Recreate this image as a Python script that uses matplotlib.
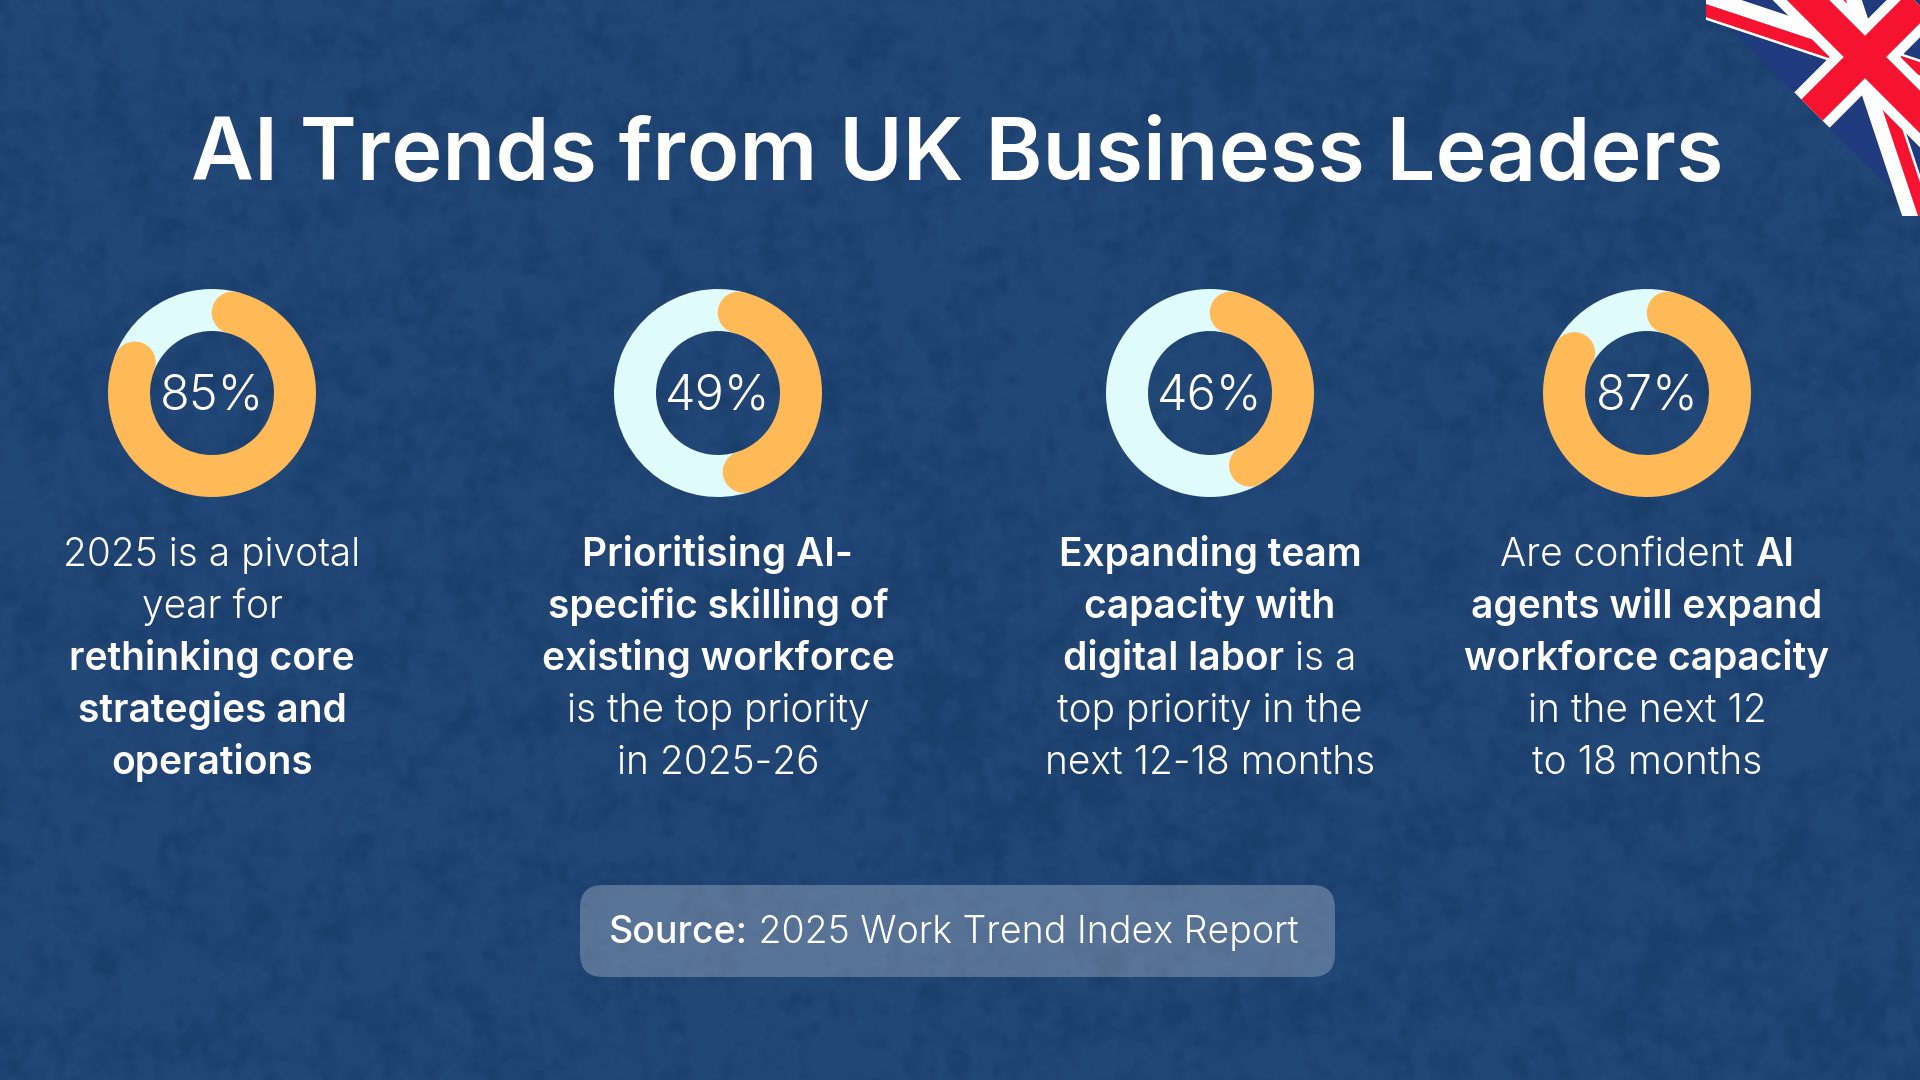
import numpy as np
import matplotlib
matplotlib.use("Agg")
import matplotlib.pyplot as plt
from matplotlib.patches import Polygon, Circle, FancyBboxPatch, Rectangle

W, H = 1920, 1080
title_text = "AI Trends from UK Business Leaders"
donut_values = [85, 49, 46, 87]
donut_labels = ["85%", "49%", "46%", "87%"]
donut_centers = [212, 718, 1210, 1647]
captions = [
    [[("2025 is a pivotal", 0)], [("year for", 0)], [("rethinking core", 1)],
     [("strategies and", 1)], [("operations", 1)]],
    [[("Prioritising AI-", 1)], [("specific skilling of", 1)], [("existing workforce", 1)],
     [("is the top priority", 0)], [("in 2025-26", 0)]],
    [[("Expanding team", 1)], [("capacity with", 1)], [("digital labor", 1), (" is a", 0)],
     [("top priority in the", 0)], [("next 12-18 months", 0)]],
    [[("Are confident ", 0), ("AI", 1)], [("agents will expand", 1)], [("workforce capacity", 1)],
     [("in the next 12", 0)], [("to 18 months", 0)]],
]
source_parts = [("Source:", 1), (" 2025 Work Trend Index Report", 0)]

BG = np.array([32, 69, 116]) / 255
ORANGE = "#ffb957"
TRACK = "#e0fbfc"
FONT = "Inter"
plt.rcParams["font.family"] = [FONT, "DejaVu Sans"]

fig = plt.figure(figsize=(W / 100, H / 100), dpi=100, facecolor=BG)
ax = fig.add_axes([0, 0, 1, 1])
ax.set_xlim(0, W)
ax.set_ylim(H, 0)
ax.axis("off")

# Mottled background texture (deterministic hash noise, blurred)
yy, xx = np.mgrid[0:H, 0:W]
hash_n = np.sin(xx * 12.9898 + yy * 78.233) * 43758.5453
hash_n = hash_n - np.floor(hash_n)
fx = np.fft.fftfreq(W)[None, :]
fy = np.fft.fftfreq(H)[:, None]
F = np.fft.fft2(hash_n - hash_n.mean())
def blur(s):
    return np.real(np.fft.ifft2(F * np.exp(-2 * (np.pi * s) ** 2 * (fx ** 2 + fy ** 2))))
tex = blur(3.5) / blur(3.5).std() + 0.7 * blur(12) / blur(12).std()
tex = tex / tex.std()
shade = np.clip(tex, -2.5, 0.8) * 0.012
img = np.clip(BG[None, None, :] + shade[:, :, None] * np.array([0.7, 0.9, 1.2]), 0, 1)
ax.imshow(img, extent=(0, W, H, 0), aspect="auto", zorder=0, interpolation="bilinear")
ax.set_xlim(0, W)
ax.set_ylim(H, 0)

# Union flag, rotated in the top-right corner
C = np.array([1865.0, 57.0])
vx = np.array([1, 1]) / np.sqrt(2)
vy = np.array([-1, 1]) / np.sqrt(2)
U = 150 / 30
def flag(pts):
    pts = np.asarray(pts, float) * U
    return C + pts[:, 0:1] * vx + pts[:, 1:2] * vy
def fpoly(pts, c, z=2):
    p = Polygon(flag(pts), closed=True, fc=c, ec="none", zorder=z)
    ax.add_patch(p)
    p.set_clip_path(clip)
clip = Rectangle(tuple(flag([[-30, -15]])[0]), 60 * U, 30 * U, angle=45, transform=ax.transData)
BLUE, RED = "#1f3a7d", "#f5132f"
fpoly([[-30, -15], [30, -15], [30, 15], [-30, 15]], BLUE)
for (a, b) in [((-30, -15), (30, 15)), ((-30, 15), (30, -15))]:
    a, b = np.array(a, float), np.array(b, float)
    d = (b - a) / np.linalg.norm(b - a)
    n = np.array([-d[1], d[0]])
    fpoly([a - d * 5 + n * 3, b + d * 5 + n * 3, b + d * 5 - n * 3, a - d * 5 - n * 3], "white", 3)
# counter-changed red diagonals: left of the outward heading
for corner in [(-30, -15), (30, -15), (30, 15), (-30, 15)]:
    c = np.array(corner, float)
    d = c / np.linalg.norm(c)
    n = np.array([d[1], -d[0]])
    fpoly([c * 0, c + d * 5, c + d * 5 + n * 2.5, n * 2.5], RED, 4)
fpoly([[-30, -5], [30, -5], [30, 5], [-30, 5]], "white", 5)
fpoly([[-5, -15], [5, -15], [5, 15], [-5, 15]], "white", 5)
fpoly([[-30, -3], [30, -3], [30, 3], [-30, 3]], RED, 6)
fpoly([[-3, -15], [3, -15], [3, 15], [-3, 15]], RED, 6)

renderer = fig.canvas.get_renderer()
def seg_width(s, size, weight):
    probe = ax.text(0, 0, s + "|", fontsize=size, fontweight=weight)
    bar = ax.text(0, 0, "|", fontsize=size, fontweight=weight)
    w = probe.get_window_extent(renderer).width - bar.get_window_extent(renderer).width
    probe.remove(); bar.remove()
    return w
def rich_line(parts, cx, y, size_reg, size_bold, z=20, w_reg=300, w_bold=600):
    sizes = [size_bold if b else size_reg for s, b in parts]
    weights = [w_bold if b else w_reg for s, b in parts]
    ws = [seg_width(s, sz, wt) for (s, b), sz, wt in zip(parts, sizes, weights)]
    x = cx - sum(ws) / 2
    for (s, b), w, sz, wt in zip(parts, ws, sizes, weights):
        ax.text(x, y, s, fontsize=sz, fontweight=wt, color="white",
                ha="left", va="baseline", zorder=z)
        x += w

ax.text(957, 180, title_text, fontsize=62.3, fontweight=600, color="white", ha="center",
        va="baseline", zorder=20)

# Donuts
R = 104
ring = 42 / R
cap = np.degrees(21 / 83) / 3.6
for cx, v, lab, lines in zip(donut_centers, donut_values, donut_labels, captions):
    a = fig.add_axes([(cx - R) / W, 1 - (393 + R) / H, 2 * R / W, 2 * R / H])
    wedges, _ = a.pie([v - 2 * cap, 100 - v + 2 * cap], colors=[ORANGE, TRACK],
                      startangle=90 - cap * 3.6, counterclock=False, radius=1,
                      wedgeprops=dict(width=ring, linewidth=0))
    a.set_xlim(-1, 1); a.set_ylim(-1, 1)
    w = wedges[0]
    for th in (w.theta1, w.theta2):
        a.add_patch(Circle(((1 - ring / 2) * np.cos(np.radians(th)),
                            (1 - ring / 2) * np.sin(np.radians(th))), ring / 2,
                           fc=ORANGE, ec="none", zorder=5))
    a.text(0, 2 / R, lab, fontsize=35, fontweight=300, color="white", ha="center",
           va="center_baseline", zorder=6)
    for i, parts in enumerate(lines):
        rich_line(parts, cx, 566 + i * 52, 28, 28)

# Source box
ax.add_patch(FancyBboxPatch((580 + 23, 885 + 23), 755 - 46, 92 - 46,
                            boxstyle="round,pad=23,rounding_size=23",
                            fc=(1, 1, 1, 0.25), ec="none", zorder=10))
rich_line(source_parts, 954, 943, 27, 27, w_bold=500)

fig.savefig("out.png", dpi=100, facecolor=BG)
